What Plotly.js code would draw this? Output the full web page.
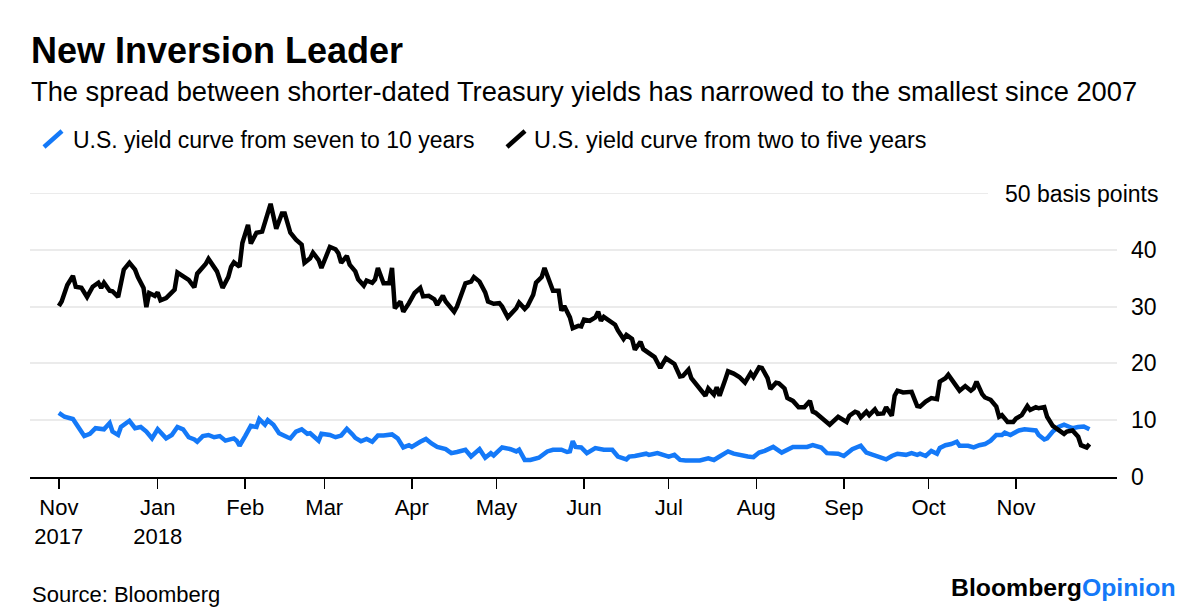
<!DOCTYPE html>
<html>
<head>
<meta charset="utf-8">
<script src="https://cdn.plot.ly/plotly-3.0.1.min.js"></script>
<style>
html,body{margin:0;padding:0;background:#fff;}
#chart{width:1200px;height:612px;}
</style>
</head>
<body>
<div id="chart"></div>
<script>
// ---- Data (basis points) ----
const twoToFiveDates = ['2017-11-27','2017-11-28','2017-11-30','2017-12-02','2017-12-03','2017-12-05','2017-12-07','2017-12-09','2017-12-11','2017-12-12','2017-12-13','2017-12-15','2017-12-16','2017-12-18','2017-12-20','2017-12-22','2017-12-24','2017-12-25','2017-12-27','2017-12-28','2017-12-29','2017-12-31',
'2018-01-01','2018-01-02','2018-01-04','2018-01-06','2018-01-07','2018-01-08','2018-01-10','2018-01-12','2018-01-14','2018-01-15','2018-01-18','2018-01-19','2018-01-22','2018-01-24','2018-01-26','2018-01-27','2018-01-28','2018-01-30','2018-01-31',
'2018-02-02','2018-02-03','2018-02-05','2018-02-07','2018-02-09','2018-02-10','2018-02-12','2018-02-14','2018-02-15','2018-02-17','2018-02-19','2018-02-21','2018-02-22','2018-02-24','2018-02-25','2018-02-27','2018-02-28',
'2018-03-02','2018-03-03','2018-03-05','2018-03-06','2018-03-07','2018-03-09','2018-03-10','2018-03-12','2018-03-13','2018-03-15','2018-03-16','2018-03-18','2018-03-19','2018-03-20','2018-03-22','2018-03-24','2018-03-25','2018-03-26','2018-03-28','2018-03-29','2018-03-31',
'2018-04-02','2018-04-04','2018-04-05','2018-04-07','2018-04-09','2018-04-10','2018-04-12','2018-04-13','2018-04-15','2018-04-16','2018-04-17','2018-04-19','2018-04-20','2018-04-22','2018-04-23','2018-04-25','2018-04-27','2018-04-28','2018-04-30',
'2018-05-02','2018-05-03','2018-05-05','2018-05-06','2018-05-08','2018-05-09','2018-05-11','2018-05-12','2018-05-14','2018-05-15','2018-05-17','2018-05-18','2018-05-20','2018-05-21','2018-05-23','2018-05-24','2018-05-25','2018-05-27','2018-05-28','2018-05-30','2018-05-31',
'2018-06-01','2018-06-03','2018-06-05','2018-06-06','2018-06-07','2018-06-08','2018-06-10','2018-06-12','2018-06-13','2018-06-15','2018-06-16','2018-06-18','2018-06-19','2018-06-21','2018-06-22','2018-06-24','2018-06-26','2018-06-28','2018-06-29','2018-06-30',
'2018-07-03','2018-07-05','2018-07-06','2018-07-08','2018-07-09','2018-07-11','2018-07-14','2018-07-15','2018-07-17','2018-07-18','2018-07-19','2018-07-21','2018-07-22','2018-07-24','2018-07-26','2018-07-28','2018-07-30','2018-07-31',
'2018-08-02','2018-08-03','2018-08-05','2018-08-06','2018-08-08','2018-08-09','2018-08-11','2018-08-12','2018-08-14','2018-08-16','2018-08-18','2018-08-20','2018-08-21','2018-08-22','2018-08-24','2018-08-27','2018-08-30','2018-08-31',
'2018-09-02','2018-09-03','2018-09-05','2018-09-06','2018-09-07','2018-09-09','2018-09-10','2018-09-12','2018-09-13','2018-09-15','2018-09-16','2018-09-18','2018-09-19','2018-09-20','2018-09-22','2018-09-25','2018-09-26','2018-09-27','2018-09-28','2018-09-30',
'2018-10-02','2018-10-04','2018-10-05','2018-10-07','2018-10-08','2018-10-10','2018-10-12','2018-10-14','2018-10-16','2018-10-17','2018-10-18','2018-10-20','2018-10-21','2018-10-23','2018-10-25','2018-10-26','2018-10-27','2018-10-29','2018-10-31',
'2018-11-01','2018-11-03','2018-11-05','2018-11-06','2018-11-08','2018-11-09','2018-11-11','2018-11-12','2018-11-14','2018-11-16','2018-11-18','2018-11-19','2018-11-21','2018-11-23','2018-11-24','2018-11-26','2018-11-27'];
const twoToFiveValues = [30.1,30.9,33.8,35.4,33.5,33.3,31.7,33.5,34.2,33.3,34.2,32.8,32.7,31.7,36.5,37.7,36.5,35.2,33.3,29.9,32.4,31.9,
32.5,31.1,31.5,32.7,33,36,35.3,34.7,33.4,35.8,37.5,38.4,36.2,33.3,35.2,37,37.8,37,41.2,
44.4,41.1,43,43.2,46.6,48.1,43.7,46.4,46.4,43,41.8,40.9,37.7,38.5,39.5,38.2,36.8,
39.4,40.5,40.1,39.4,37.7,38.9,37.4,36.2,34.8,33.7,34.6,34.2,34.8,36.8,34.1,34.1,36.8,29.7,30.9,29.1,30.6,
32.4,33.3,31.8,31.9,31.3,30.3,31.9,30.9,29.7,29.1,30,33.1,34.1,34.4,35.2,34.4,32.5,30.9,30.5,
30.6,30,28.1,28.6,29.7,30.7,29.6,30.1,32.1,34.2,35.2,36.8,34,32.8,32.8,29.3,30.1,28.1,26.2,26.6,26.5,
27.7,27.5,28.1,29.1,27.5,28.2,27.4,26.8,25.8,24.3,25,24.3,22.4,23.8,22.5,21.9,21.1,19.2,20.1,20.9,
19.9,17.7,17.8,18.9,17.4,16.2,14.3,15.6,14.5,15.8,14.3,17.1,18.6,18.2,17.6,16.6,18.3,17.6,
19.3,19.2,17.4,15.5,16.6,16.5,15.6,13.9,13.4,12.3,12.3,13.4,11.5,11.3,10.5,9.2,10.6,10.3,
9.7,10.8,11.5,11.3,10.5,11.5,10.9,11.9,11.1,11.2,12.3,10.8,14.3,15.2,14.9,15,13.9,12.5,12.4,13.3,
13.9,13.7,16.8,17.4,18,16.5,15.2,16,15.2,15.6,16.8,14.6,14,13.6,12.4,10.6,10.9,9.7,9.7,
10.3,10.9,12.5,11.8,12.3,12.1,12.3,10.6,9,8.4,7.6,8,8.2,7.1,5.6,5.2,5.8];

const sevenToTenDates = ['2017-11-27','2017-11-29','2017-12-02','2017-12-04','2017-12-06','2017-12-08','2017-12-10','2017-12-13','2017-12-15','2017-12-16','2017-12-18','2017-12-19','2017-12-22','2017-12-24','2017-12-26','2017-12-28','2017-12-30',
'2018-01-01','2018-01-02','2018-01-04','2018-01-06','2018-01-08','2018-01-10','2018-01-12','2018-01-14','2018-01-15','2018-01-17','2018-01-19','2018-01-21','2018-01-23','2018-01-25','2018-01-28','2018-01-29','2018-01-30',
'2018-02-01','2018-02-03','2018-02-05','2018-02-06','2018-02-08','2018-02-09','2018-02-11','2018-02-13','2018-02-16','2018-02-17','2018-02-19','2018-02-21','2018-02-23','2018-02-24','2018-02-27','2018-02-28',
'2018-03-03','2018-03-05','2018-03-07','2018-03-09','2018-03-11','2018-03-12','2018-03-14','2018-03-16','2018-03-18','2018-03-20','2018-03-22','2018-03-25','2018-03-27','2018-03-29','2018-03-31',
'2018-04-01','2018-04-04','2018-04-06','2018-04-08','2018-04-10','2018-04-13','2018-04-15','2018-04-17','2018-04-20','2018-04-22','2018-04-25','2018-04-27','2018-04-29','2018-04-30',
'2018-05-03','2018-05-06','2018-05-08','2018-05-09','2018-05-11','2018-05-13','2018-05-16','2018-05-19','2018-05-21','2018-05-24','2018-05-26','2018-05-27','2018-05-28','2018-05-29','2018-05-31',
'2018-06-02','2018-06-05','2018-06-08','2018-06-11','2018-06-13','2018-06-15','2018-06-16','2018-06-17','2018-06-19','2018-06-23','2018-06-24','2018-06-27','2018-06-29',
'2018-07-01','2018-07-03','2018-07-05','2018-07-07','2018-07-12','2018-07-15','2018-07-17','2018-07-19','2018-07-22','2018-07-24','2018-07-27','2018-07-29','2018-07-31',
'2018-08-02','2018-08-04','2018-08-07','2018-08-10','2018-08-14','2018-08-19','2018-08-21','2018-08-24','2018-08-26','2018-08-30',
'2018-09-01','2018-09-04','2018-09-07','2018-09-09','2018-09-12','2018-09-16','2018-09-18','2018-09-20','2018-09-23','2018-09-25','2018-09-27','2018-09-28','2018-09-30',
'2018-10-02','2018-10-04','2018-10-05','2018-10-07','2018-10-09','2018-10-11','2018-10-12','2018-10-15','2018-10-17','2018-10-19','2018-10-21','2018-10-23','2018-10-25','2018-10-27','2018-10-28','2018-10-30','2018-10-31',
'2018-11-02','2018-11-04','2018-11-06','2018-11-08','2018-11-09','2018-11-11','2018-11-12','2018-11-14','2018-11-16','2018-11-18','2018-11-20','2018-11-21','2018-11-23','2018-11-25','2018-11-27'];
const sevenToTenValues = [11.3,10.6,10.2,8.8,7.2,7.6,8.6,8.4,9.5,8,7.4,8.8,9.9,8.6,8.8,8,6.8,
8.4,7.8,6.8,7.4,8.8,8.4,7,6.6,6.2,7.2,7.4,7,7.2,6.4,6.8,6.4,5.5,
7.2,9,8.8,10.2,9.2,10,9.2,7.7,7,6.8,8,8.4,7.6,7.7,6.4,7.6,
7.4,7,7.3,8.5,7.5,6.9,6.3,6.7,6.2,7.3,7.3,7.5,6.8,5.2,5.6,
5.3,6.2,6.7,5.9,5.3,4.9,4.2,4.4,4.8,3.6,4.9,3.4,4.2,3.8,
5.2,4.9,4.5,4.8,3,3,3.4,4.5,4.8,4.8,4.4,4.5,6.3,5.3,5.2,
4.2,5.1,4.8,4.8,3.6,3.4,3.1,3.6,3.7,4.1,3.9,4.2,3.9,
3.6,3.9,3,2.9,2.9,3.3,3,3.6,4.5,4.1,3.7,3.6,3.5,
4.3,4.6,5.3,4.3,5.3,5.3,5.6,5.2,4.2,4.1,
3.7,4.9,5.5,4.3,3.7,3.1,3.7,4.1,3.9,4.2,3.9,4.1,3.7,
4.6,4.1,5.1,5.6,5.8,6.2,5.5,5.5,5.2,5.6,5.8,6.4,7.4,7.4,7.8,7.4,7.7,
8.2,8.4,8.2,8.2,7.4,6.6,6.8,8,8.8,9.2,8.8,8.6,8.8,8.9,8.4];

const seriesNames = ['U.S. yield curve from seven to 10 years','U.S. yield curve from two to five years'];
const tickDates = ['2017-11-27','2018-01-01','2018-02-01','2018-03-01','2018-04-01','2018-05-01','2018-06-01','2018-07-01','2018-08-01','2018-09-01','2018-10-01','2018-11-01'];
const tickLabels = ['Nov<br>2017','Jan<br>2018','Feb','Mar','Apr','May','Jun','Jul','Aug','Sep','Oct','Nov'];
const yTicks = [0,10,20,30,40];

// ---- Styling ----
const BLUE = '#1479f8';
const FONT = 'Liberation Sans, Arial, Helvetica, sans-serif';
const PL = 30, PR = 1117, PT = 193, PB = 477;
const px = x => (x - PL) / (PR - PL);
const py = y => (PB - y) / (PB - PT);

const traces = [
  {x: sevenToTenDates, y: sevenToTenValues, name: seriesNames[0], type: 'scatter', mode: 'lines',
   line: {color: BLUE, width: 4.5, shape: 'linear'}, showlegend: false, hoverinfo: 'x+y'},
  {x: twoToFiveDates, y: twoToFiveValues, name: seriesNames[1], type: 'scatter', mode: 'lines',
   line: {color: '#000000', width: 4.5, shape: 'linear'}, showlegend: false, hoverinfo: 'x+y'}
];

const layout = {
  width: 1200, height: 612,
  margin: {l: PL, r: 1200 - PR, t: PT, b: 612 - PB, pad: 0},
  paper_bgcolor: '#ffffff', plot_bgcolor: '#ffffff',
  font: {family: FONT, color: '#000000'},
  showlegend: false,
  xaxis: {
    type: 'date',
    range: ['2017-11-16 19:00', '2018-12-06 18:00'],
    tickmode: 'array', tickvals: tickDates, ticktext: tickLabels,
    ticks: 'outside', ticklen: 10, tickwidth: 1.5, tickcolor: '#000',
    showline: true, linecolor: '#000', linewidth: 2,
    showgrid: false, zeroline: false,
    tickfont: {family: FONT, size: 22, color: '#000'},
    tickangle: 0, fixedrange: true
  },
  yaxis: {
    range: [0, 50], side: 'right',
    tickmode: 'array', tickvals: yTicks, ticktext: yTicks.map(String),
    ticks: '', showline: false, zeroline: false,
    showgrid: true, gridcolor: '#ebebeb', gridwidth: 2,
    tickfont: {family: FONT, size: 23, color: '#000'},
    ticklabelstandoff: 13, fixedrange: true
  },
  shapes: [
    {type: 'line', xref: 'paper', yref: 'y', x0: 0, x1: px(988), y0: 50, y1: 50,
     line: {color: '#ebebeb', width: 2}, layer: 'below'},
    {type: 'line', xref: 'paper', yref: 'paper', x0: px(44), y0: py(147), x1: px(62), y1: py(131),
     line: {color: BLUE, width: 4.5}},
    {type: 'line', xref: 'paper', yref: 'paper', x0: px(507), y0: py(147), x1: px(525), y1: py(131),
     line: {color: '#000', width: 4.5}}
  ],
  annotations: [
    {text: '<b>New Inversion Leader</b>', xref: 'paper', yref: 'paper', x: px(29), y: py(50.5),
     xanchor: 'left', yanchor: 'middle', showarrow: false, font: {family: FONT, size: 36, color: '#000'}},
    {text: 'The spread between shorter-dated Treasury yields has narrowed to the smallest since 2007',
     xref: 'paper', yref: 'paper', x: px(29), y: py(92),
     xanchor: 'left', yanchor: 'middle', showarrow: false, font: {family: FONT, size: 27.3, color: '#000'}},
    {text: seriesNames[0], xref: 'paper', yref: 'paper', x: px(70.5), y: py(140.2),
     xanchor: 'left', yanchor: 'middle', showarrow: false, font: {family: FONT, size: 23, color: '#000'}},
    {text: seriesNames[1], xref: 'paper', yref: 'paper', x: px(532), y: py(140.2),
     xanchor: 'left', yanchor: 'middle', showarrow: false, font: {family: FONT, size: 23.4, color: '#000'}},
    {text: '50 basis points', xref: 'paper', yref: 'paper', x: px(1160), y: py(193.6),
     xanchor: 'right', yanchor: 'middle', showarrow: false, font: {family: FONT, size: 23, color: '#000'}},
    {text: 'Source: Bloomberg', xref: 'paper', yref: 'paper', x: px(30), y: py(594),
     xanchor: 'left', yanchor: 'middle', showarrow: false, font: {family: FONT, size: 22, color: '#000'}},
    {text: '<b>Bloomberg<span style="color:' + BLUE + '">Opinion</span></b>', xref: 'paper', yref: 'paper',
     x: px(1178), y: py(587.6), xanchor: 'right', yanchor: 'middle', showarrow: false,
     font: {family: FONT, size: 24.8, color: '#000'}}
  ]
};

Plotly.newPlot('chart', traces, layout, {displayModeBar: false, staticPlot: true});
</script>
</body>
</html>
